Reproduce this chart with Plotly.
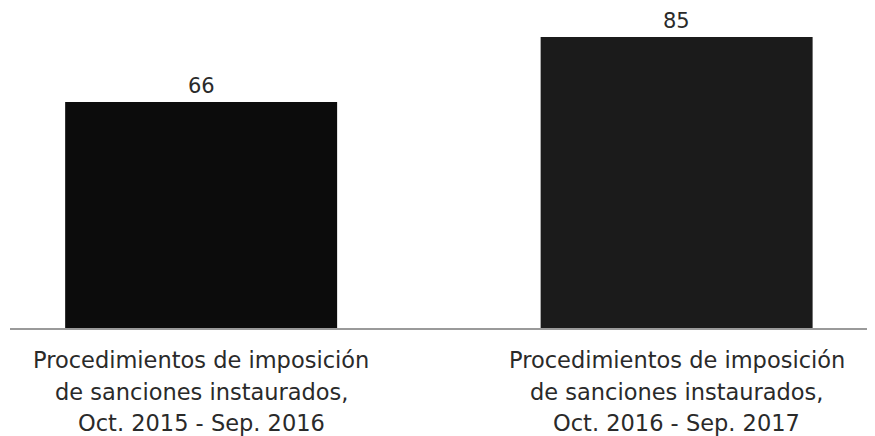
import plotly.graph_objects as go

# datos
categorias = ['Procedimientos de imposición', 'de sanciones instaurados,']
periodos = ['Oct. 2015 - Sep. 2016', 'Oct. 2016 - Sep. 2017']
valores = [66, 85]
colores = ['#0c0c0c', '#1b1b1b']

x = list(range(len(valores)))
FUENTE = 'DejaVu Sans'

fig = go.Figure()
fig.add_trace(go.Bar(x=x, y=valores, width=0.572, marker=dict(color=colores, line=dict(width=0)),
                     showlegend=False, hoverinfo='skip'))

# valores encima de las barras
for xi, v in zip(x, valores):
    fig.add_annotation(x=xi, y=v, text=str(v), showarrow=False, yanchor='middle', yshift=16,
                       font=dict(family=FUENTE, size=21, color='#2a2a2a'))

# etiquetas debajo (una anotacion por linea para el interlineado)
for xi, p in zip(x, periodos):
    for i, linea in enumerate(categorias + [p]):
        fig.add_annotation(x=xi, xref='x', y=0, yref='paper', text=linea, showarrow=False,
                           yanchor='middle', yshift=-(32 + 31.5 * i),
                           font=dict(family=FUENTE, size=22.5, color='#2a2a2a'))

fig.update_layout(
    width=875, height=436,
    margin=dict(l=2, r=10, t=0, b=116),
    paper_bgcolor='white', plot_bgcolor='white',
    xaxis=dict(range=[-0.402, 1.413], showticklabels=False,
               showline=True, linecolor='#9a9a9a', linewidth=2, showgrid=False, zeroline=False,
               ticks=''),
    yaxis=dict(range=[0, 93.5], visible=False),
)

fig.write_html("out.html")
